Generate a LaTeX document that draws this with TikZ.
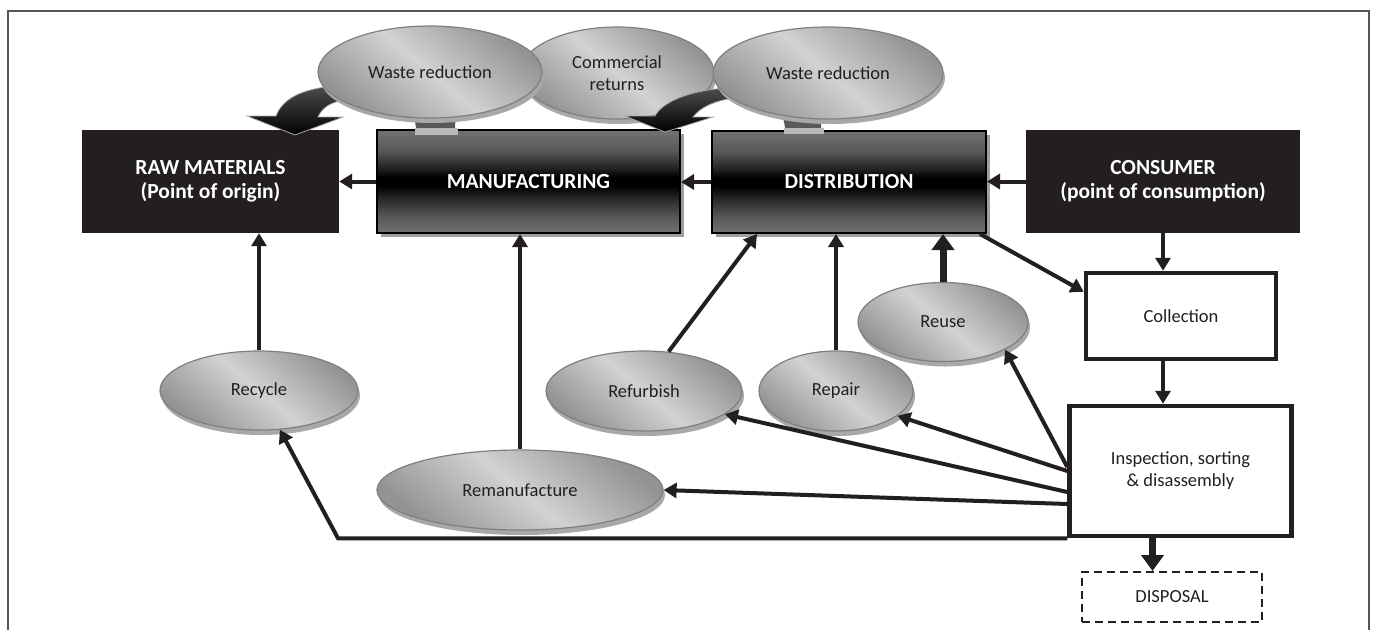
\documentclass[tikz,border=0pt]{standalone}
\usepackage{fontspec}
\setmainfont{Carlito}
\usetikzlibrary{arrows.meta,shapes.geometric,shadows}

\definecolor{ink}{HTML}{231F20}
\definecolor{ovalline}{HTML}{7F7F7F}
\definecolor{ovaldark}{HTML}{939393}
\definecolor{ovallight}{HTML}{D2D2D2}
\definecolor{ovalshadow}{HTML}{A8A8A8}
\definecolor{framegray}{HTML}{555555}
\definecolor{barA}{HTML}{727272}
\definecolor{barB}{HTML}{585858}
\definecolor{barC}{HTML}{262626}

% grey-black-grey band used for the two middle stages
\pgfdeclareverticalshading{barshade}{100bp}{color(0bp)=(barA); color(25bp)=(barA); color(33bp)=(barB); color(42bp)=(barC); color(48bp)=(black); color(52bp)=(black); color(57bp)=(barC); color(65bp)=(barB); color(75bp)=(barA); color(100bp)=(barA)}

\tikzset{
  titlefont/.style={font=\bfseries\fontsize{21.5}{24}\selectfont},
  labelfont/.style={font=\fontsize{18.5}{22}\selectfont},
  darkbox/.style={rectangle, fill=ink, text=white, titlefont, align=center, inner sep=0pt},
  barbox/.style={rectangle, draw=black, line width=2pt, shade, shading=barshade, text=white,
    titlefont, align=center, inner sep=0pt,
    drop shadow={shadow xshift=4pt, shadow yshift=-4pt, fill=gray!75, opacity=1}},
  oval/.style={ellipse, draw=ovalline, line width=1.2pt, top color=ovaldark, bottom color=ovaldark,
    middle color=ovallight, shading angle=-40, text=ink, labelfont,
    inner sep=0pt, align=center,
    drop shadow={shadow xshift=2pt, shadow yshift=-5pt, fill=ovalshadow, opacity=1}},
  whitebox/.style={rectangle, draw=ink, line width=4.5pt, fill=white, text=ink,
    labelfont, align=center, inner sep=0pt},
  dashbox/.style={rectangle, draw=ink, line width=2pt, dash pattern=on 8pt off 5pt, fill=white,
    text=ink, labelfont, inner sep=0pt},
  arr/.style={draw=ink, line width=4pt, -{Triangle[length=13pt,width=15pt]}},
  bigarr/.style={draw=ink, line width=7pt, -{Triangle[length=16pt,width=22pt]}},
  bentarrow/.style={shade, top color=black!70, bottom color=black, draw=gray!70, line width=0.8pt},
}

\begin{document}
\begin{tikzpicture}[x=1pt, y=-1pt]
\useasboundingbox (0,0) rectangle (1375,630);

% outer frame, open at the bottom
\draw[framegray, line width=1.5pt] (8,630) -- (8,11) -- (1369,11) -- (1369,630);

% main chain of stages
\node[darkbox, minimum width=257pt, minimum height=103pt] (raw) at (210.5,181.5) {RAW MATERIALS\\(Point of origin)};
\node[barbox, minimum width=303pt, minimum height=103pt] (manuf) at (528.5,181.5) {MANUFACTURING};
\node[barbox, minimum width=274pt, minimum height=102pt] (dist) at (849,182) {DISTRIBUTION};
\node[darkbox, minimum width=274pt, minimum height=103pt] (cons) at (1163,181.5) {CONSUMER\\(point of consumption)};

% tabs joining the top ovals to the boxes
\fill[black!65] (413,110) .. controls (414,120) and (416,124) .. (416,129) -- (455,129) .. controls (455,122) and (456,116) .. (457,110) -- cycle;
\fill[gray!55] (415,128) rectangle (458,135);
\fill[black!65] (782,110) .. controls (783,120) and (785,124) .. (785,129) -- (821,129) .. controls (821,122) and (822,116) .. (823,110) -- cycle;
\fill[gray!55] (784,128) rectangle (824,134);

% bent arrow from the first waste-reduction oval
\path[bentarrow] (338,86) .. controls (300,88) and (282,100) .. (276,116) -- (247,116) -- (295,135) -- (343,117) -- (318,117) .. controls (322,108) and (330,103) .. (340,101) -- cycle;

% top ovals
\node[oval, minimum width=194pt, minimum height=92pt] (cr) at (617,73) {Commercial\\returns};
\node[oval, minimum width=224pt, minimum height=92pt] (wr1) at (430,72) {Waste reduction};

% bent arrow from the second waste-reduction oval
\path[bentarrow] (728,88) .. controls (690,90) and (662,102) .. (655,116) -- (625,116) -- (665,132) -- (713,117) -- (693,117) .. controls (700,108) and (712,102) .. (728,99) -- cycle;
\node[oval, minimum width=230pt, minimum height=92pt] (wr2) at (828,73) {Waste reduction};

% reverse-flow boxes
\node[whitebox, minimum width=190pt, minimum height=86pt] (coll) at (1181,316) {Collection};
\node[whitebox, minimum width=222pt, minimum height=130pt] (insp) at (1180.5,471) {Inspection, sorting\\\& disassembly};
\node[dashbox, minimum width=180pt, minimum height=50pt] (disp) at (1172,597) {DISPOSAL};

% recovery options
\node[oval, minimum width=198pt, minimum height=79pt] (recycle) at (259,390.5) {Recycle};
\node[oval, minimum width=286pt, minimum height=80pt] (reman) at (520,490) {Remanufacture};
\node[oval, minimum width=196pt, minimum height=80pt] (refurb) at (644,391) {Refurbish};
\node[oval, minimum width=154pt, minimum height=80pt] (repair) at (836,391) {Repair};
\node[oval, minimum width=170pt, minimum height=79pt] (reuse) at (943,322) {Reuse};

\coordinate (bend) at (338,536);

% forward flow
\draw[arr] (manuf.west) -- (raw.east);
\draw[arr] (dist.west) -- (dist.west -| manuf.east);
\draw[arr] (cons.west) -- (cons.west -| dist.east);

% reverse flow
\draw[arr] (cons.south) -- (cons.south |- coll.north);
\draw[arr] (cons.south |- coll.south) -- (cons.south |- insp.north);
\draw[bigarr] ([xshift=-28pt]insp.south) -- ([xshift=-28pt]insp.south |- disp.north);
\draw[arr] ([xshift=-7pt]dist.south east) -- ([yshift=-21pt]coll.north west);

% recovered items back into the chain
\draw[arr] (recycle.north) -- (recycle.north |- raw.south);
\draw[arr] (reman.north) -- (reman.north |- manuf.south);
\draw[arr] (refurb.58) -- ([xshift=46pt]dist.south west);
\draw[arr] (repair.north) -- (repair.north |- dist.south);
\draw[bigarr] (reuse.north) -- (reuse.north |- dist.south);

% sorting outcomes
\draw[arr] ([yshift=4pt]insp.west) -- (reuse.-24);
\draw[arr] (insp.west) -- (repair.-22);
\draw[arr] ([yshift=-21pt]insp.west) -- (refurb.-16);
\draw[arr] ([yshift=-33pt]insp.west) -- (reman.east);
\draw[arr] (insp.south west) -- (bend |- insp.south west) -- (recycle.-62);
\end{tikzpicture}
\end{document}
